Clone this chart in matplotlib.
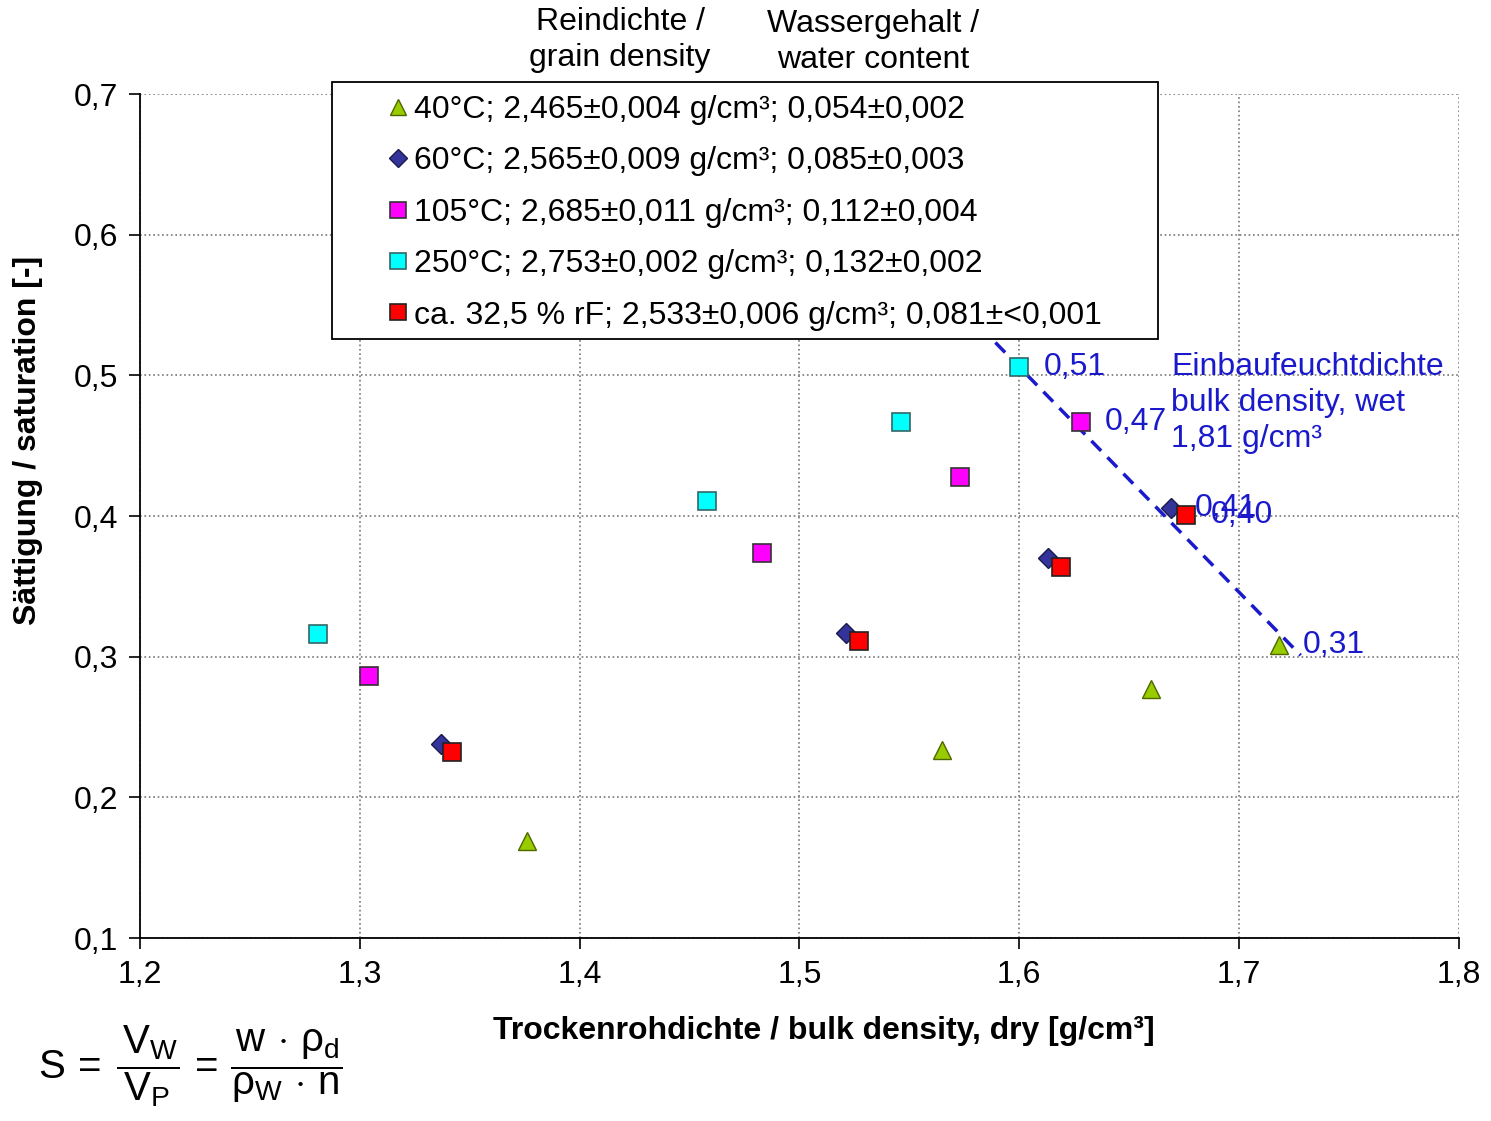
import matplotlib.pyplot as plt
from matplotlib.patches import Rectangle
from matplotlib.ticker import FuncFormatter

plt.rcParams['font.family'] = ['Liberation Sans', 'DejaVu Sans']
plt.rcParams['mathtext.fontset'] = 'custom'
plt.rcParams['mathtext.rm'] = 'Liberation Sans'
plt.rcParams['mathtext.it'] = 'Liberation Sans'
plt.rcParams['font.size'] = 23

# data
x_40 = [1.376, 1.565, 1.660, 1.718]
y_40 = [0.169, 0.234, 0.277, 0.308]
x_60 = [1.337, 1.521, 1.613, 1.669]
y_60 = [0.238, 0.317, 0.370, 0.406]
x_105 = [1.304, 1.483, 1.573, 1.628]
y_105 = [0.286, 0.374, 0.428, 0.467]
x_250 = [1.281, 1.458, 1.546, 1.600]
y_250 = [0.316, 0.411, 0.467, 0.506]
x_rf = [1.342, 1.527, 1.619, 1.676]
y_rf = [0.232, 0.311, 0.364, 0.401]

labels = ['40°C; 2,465±0,004 g/cm³; 0,054±0,002',
          '60°C; 2,565±0,009 g/cm³; 0,085±0,003',
          '105°C; 2,685±0,011 g/cm³; 0,112±0,004',
          '250°C; 2,753±0,002 g/cm³; 0,132±0,002',
          'ca. 32,5 % rF; 2,533±0,006 g/cm³; 0,081±<0,001']

# wet bulk density 1,81 g/cm³ line
line_x = [1.56, 1.728]
line_y = [0.570, 0.301]
wet_pts_x = [1.600, 1.628, 1.669, 1.676, 1.718]
wet_pts_y = [0.506, 0.467, 0.406, 0.401, 0.308]
wet_labels = ['0,51', '0,47', '0,41', '0,40', '0,31']

blue = '#1a1acc'

fig = plt.figure(figsize=(14.91, 11.21), dpi=100)
ax = fig.add_axes([0.0939, 0.1632, 0.8846, 0.7529])

ax.plot(line_x, line_y, linestyle=(0, (4, 2.6)), color=blue, lw=2.5, zorder=2)

ms = 13
ax.plot(x_40, y_40, '^', ms=ms, mfc='#99cc00', mec='#4d6600', mew=1, ls='none', label=labels[0], zorder=3)
ax.plot(x_60, y_60, 'D', ms=10, mfc='#333399', mec='#1a1a4d', mew=1, ls='none', label=labels[1], zorder=3)
ax.plot(x_105, y_105, 's', ms=ms, mfc='#ff00ff', mec='#333333', mew=1.2, ls='none', label=labels[2], zorder=3)
ax.plot(x_250, y_250, 's', ms=ms, mfc='#00ffff', mec='#336666', mew=1.2, ls='none', label=labels[3], zorder=3)
ax.plot(x_rf, y_rf, 's', ms=ms, mfc='#ff0000', mec='#222222', mew=1.2, ls='none', label=labels[4], zorder=3)

for px, py, t in zip(wet_pts_x, wet_pts_y, wet_labels):
    ax.annotate(t, (px, py), xytext=(24, 0), textcoords='offset pixels',
                color=blue, fontsize=23, va='center', ha='left', zorder=4)

ax.text(1.669, 0.5166, 'Einbaufeuchtdichte\nbulk density, wet\n1,81 g/cm³', color=blue,
        fontsize=23, va='top', ha='left', linespacing=1.25)

ax.set_xlim(1.2, 1.8)
ax.set_ylim(0.1, 0.7)
ax.set_xticks([1.2, 1.3, 1.4, 1.5, 1.6, 1.7, 1.8])
ax.set_yticks([0.1, 0.2, 0.3, 0.4, 0.5, 0.6, 0.7])
ax.xaxis.set_major_formatter(FuncFormatter(lambda v, p: f'{v:.1f}'.replace('.', ',')))
ax.yaxis.set_major_formatter(FuncFormatter(lambda v, p: f'{v:.1f}'.replace('.', ',')))
ax.tick_params(direction='out', length=8, width=1.2, labelsize=23)
ax.tick_params(axis='y', pad=8)
ax.tick_params(axis='x', pad=8)
ax.grid(True, linestyle=':', color='#777777', lw=1.2)
ax.spines['top'].set_visible(False)
ax.spines['right'].set_visible(False)
ax.spines['left'].set_linewidth(1.3)
ax.spines['bottom'].set_linewidth(1.3)

ax.set_xlabel('Trockenrohdichte / bulk density, dry [g/cm³]', fontweight='bold', fontsize=23)
ax.set_ylabel('Sättigung / saturation [-]', fontweight='bold', fontsize=23)
ax.xaxis.set_label_coords(0.5186, -0.092)
ax.yaxis.set_label_coords(-0.0735, 0.59)

# legend frame drawn separately, entries placed inside it
frame = Rectangle((332 / 1491, 1 - 339 / 1121), (1158 - 332) / 1491, (339 - 82) / 1121,
                  transform=fig.transFigure, facecolor='white', edgecolor='black', lw=1.3, zorder=5)
ax.add_artist(frame)
frame.set_clip_on(False)
leg = ax.legend(loc='upper left', bbox_to_anchor=(388 / 1491, 1 - 95 / 1121), bbox_transform=fig.transFigure,
                frameon=False, fontsize=23, handletextpad=0.2, handlelength=0.6,
                labelspacing=0.67, borderpad=0, borderaxespad=0, markerscale=0.9)
leg.set_zorder(6)

fig.text(620 / 1491, 1 - 40 / 1121, 'Reindichte /\ngrain density', ha='center', va='center',
         fontsize=23, linespacing=1.29)
fig.text(873 / 1491, 1 - 42 / 1121, 'Wassergehalt /\nwater content', ha='center', va='center',
         fontsize=23, linespacing=1.29)

fig.text(38 / 1491, 1 - 1066 / 1121,
         r'$\mathrm{S}\,=\;\dfrac{\,\mathrm{V_W}}{\mathrm{V_P}}\,=\,'
         r'\dfrac{\,\mathrm{w}\,\cdot\,\rho_\mathrm{d}}{\rho_\mathrm{W}\,\cdot\,\mathrm{n}}$',
         ha='left', va='center', fontsize=29)

plt.savefig('out.png', dpi=100)
plt.close()
